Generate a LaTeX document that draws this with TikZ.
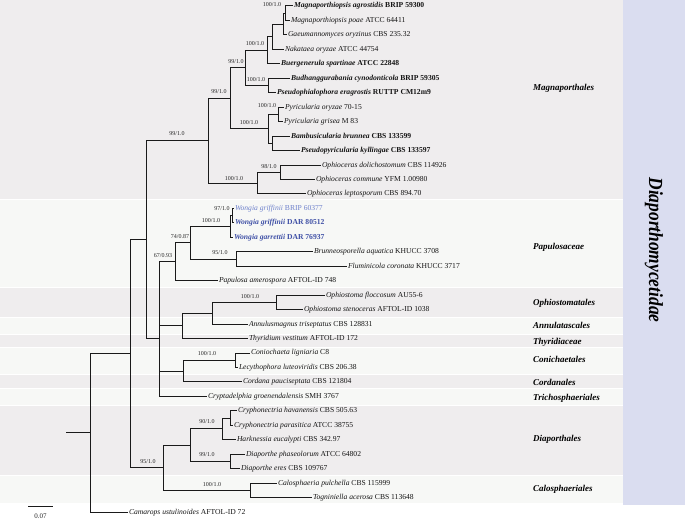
\documentclass[tikz,border=0pt]{standalone}
\usepackage{fontspec}
\setmainfont{Liberation Serif}
\usepackage{graphicx}
\definecolor{bandA}{HTML}{EFEDEE}
\definecolor{bandB}{HTML}{F7F8F6}
\definecolor{lav}{HTML}{DADDF0}
\definecolor{wblue}{HTML}{3F50A6}
\definecolor{wlight}{HTML}{6F82CC}
\definecolor{edge}{HTML}{1A1A1A}
\begin{document}
\begin{tikzpicture}[x=1pt,y=-1pt,
  br/.style={draw=edge,line width=1pt},
  leaf/.style={anchor=west,inner sep=0.8pt,text height=5.4pt,text depth=1.5pt,font=\fontsize{7.6}{8}\selectfont,text=black!92},
  sup/.style={inner sep=0pt,font=\fontsize{6}{6}\selectfont,text=black!85},
  clade/.style={anchor=west,inner sep=0pt,font=\fontsize{9}{10}\selectfont\bfseries\itshape},
  bandg/.style={fill=bandA,draw=none},
  bandw/.style={fill=bandB,draw=none}]
\useasboundingbox (0,0) rectangle (685,521);
% bands
\fill[bandg] (0,0.5) rectangle (623,199);
\fill[bandw] (0,200) rectangle (623,287);
\fill[bandg] (0,288) rectangle (623,317);
\fill[bandw] (0,318) rectangle (623,334);
\fill[bandg] (0,335) rectangle (623,347);
\fill[bandw] (0,348) rectangle (623,374);
\fill[bandg] (0,375) rectangle (623,388);
\fill[bandw] (0,389) rectangle (623,405);
\fill[bandg] (0,406) rectangle (623,475);
\fill[bandw] (0,476) rectangle (623,503);
\fill[lav] (623,0) rectangle (685,505);
\node[rotate=-90,inner sep=0pt] (sub) at (654,250) {\fontsize{20}{24}\selectfont\bfseries\itshape\scalebox{0.87}[1]{Diaporthomycetidae}};
% clade labels
\node[clade] (c1) at (533,88) {Magnaporthales};
\node[clade] (c2) at (533,247) {Papulosaceae};
\node[clade] (c3) at (533,303) {Ophiostomatales};
\node[clade] (c4) at (533,325) {Annulatascales};
\node[clade] (c5) at (533,342) {Thyridiaceae};
\node[clade] (c6) at (533,359) {Conichaetales};
\node[clade] (c7) at (533,382) {Cordanales};
\node[clade] (c8) at (533,398) {Trichosphaeriales};
\node[clade] (c9) at (533,439) {Diaporthales};
\node[clade] (c10) at (533,489) {Calosphaeriales};
% leaves
\node[leaf] (MA) at (293,6.0) {\textbf{\textit{Magnaporthiopsis agrostidis} BRIP 59300}};
\node[leaf] (MP) at (290,20.46) {\textit{Magnaporthiopsis poae} ATCC 64411};
\node[leaf] (GO) at (287,34.92) {\textit{Gaeumannomyces oryzinus} CBS 235.32};
\node[leaf] (NO) at (284,49.38) {\textit{Nakataea oryzae} ATCC 44754};
\node[leaf] (BS) at (280,63.84) {\textbf{\textit{Buergenerula spartinae} ATCC 22848}};
\node[leaf] (BC) at (290,78.30) {\textbf{\textit{Budhanggurabania cynodonticola} BRIP 59305}};
\node[leaf] (PE) at (276,92.76) {\textbf{\textit{Pseudophialophora eragrostis} RUTTP CM12m9}};
\node[leaf] (PO) at (284,107.22) {\textit{Pyricularia oryzae} 70-15};
\node[leaf] (PG) at (283,121.68) {\textit{Pyricularia grisea} M 83};
\node[leaf] (BB) at (290,136.14) {\textbf{\textit{Bambusicularia brunnea} CBS 133599}};
\node[leaf] (PK) at (300,150.60) {\textbf{\textit{Pseudopyricularia kyllingae} CBS 133597}};
\node[leaf] (OD) at (321,165.06) {\textit{Ophioceras dolichostomum} CBS 114926};
\node[leaf] (OC) at (315,179.52) {\textit{Ophioceras commune} YFM 1.00980};
\node[leaf] (OL) at (306,193.98) {\textit{Ophioceras leptosporum} CBS 894.70};
\node[leaf,text=wlight] (WG1) at (234,208.44) {\textit{Wongia griffinii} BRIP 60377};
\node[leaf,text=wblue] (WG2) at (234,222.90) {\textbf{\textit{Wongia griffinii} DAR 80512}};
\node[leaf,text=wblue] (WGa) at (233,237.36) {\textbf{\textit{Wongia garrettii} DAR 76937}};
\node[leaf] (BA) at (313,251.82) {\textit{Brunneosporella aquatica} KHUCC 3708};
\node[leaf] (FC) at (347,266.28) {\textit{Fluminicola coronata} KHUCC 3717};
\node[leaf] (PA) at (218,280.74) {\textit{Papulosa amerospora} AFTOL-ID 748};
\node[leaf] (OF) at (325,295.20) {\textit{Ophiostoma floccosum} AU55-6};
\node[leaf] (OS) at (303,309.66) {\textit{Ophiostoma stenoceras} AFTOL-ID 1038};
\node[leaf] (AT) at (248,324.12) {\textit{Annulusmagnus triseptatus} CBS 128831};
\node[leaf] (TV) at (248,338.58) {\textit{Thyridium vestitum} AFTOL-ID 172};
\node[leaf] (CL) at (250,353.04) {\textit{Coniochaeta ligniaria} C8};
\node[leaf] (LL) at (238,367.50) {\textit{Lecythophora luteoviridis} CBS 206.38};
\node[leaf] (CP) at (242,381.96) {\textit{Cordana pauciseptata} CBS 121804};
\node[leaf] (CG) at (207,396.42) {\textit{Cryptadelphia groenendalensis} SMH 3767};
\node[leaf] (CH) at (237,410.88) {\textit{Cryphonectria havanensis} CBS 505.63};
\node[leaf] (CPa) at (233,425.34) {\textit{Cryphonectria parasitica} ATCC 38755};
\node[leaf] (HE) at (236,439.80) {\textit{Harknessia eucalypti} CBS 342.97};
\node[leaf] (DP) at (245,454.26) {\textit{Diaporthe phaseolorum} ATCC 64802};
\node[leaf] (DE) at (240,468.72) {\textit{Diaporthe eres} CBS 109767};
\node[leaf] (CaP) at (277,483.18) {\textit{Calosphaeria pulchella} CBS 115999};
\node[leaf] (TA) at (312,497.64) {\textit{Togniniella acerosa} CBS 113648};
\node[leaf] (CU) at (128,512.10) {\textit{Camarops ustulinoides} AFTOL-ID 72};
% internal nodes
\coordinate (nH) at (285,13.23);
\coordinate (nG) at (283,24.08);
\coordinate (nF) at (272,36.73);
\coordinate (nD) at (267,50.28);
\coordinate (nE) at (268,85.53);
\coordinate (nC) at (245,67.90);
\coordinate (nQ) at (278,114.45);
\coordinate (nR) at (272,143.37);
\coordinate (nP) at (268,128.91);
\coordinate (nB) at (230,98.41);
\coordinate (nS) at (280,172.29);
\coordinate (nO) at (257,183.14);
\coordinate (nA) at (208,140.77);
\coordinate (nW1) at (232,215.67);
\coordinate (nW) at (230,226.52);
\coordinate (nBr) at (236,259.05);
\coordinate (n74) at (190,242.78);
\coordinate (n67) at (175,261.76);
\coordinate (nOph) at (276,302.43);
\coordinate (nAnn) at (212,313.28);
\coordinate (nThy) at (182,325.93);
\coordinate (nCon) at (235,360.27);
\coordinate (nCord) at (183,371.12);
\coordinate (n159) at (159,338.81);
\coordinate (n146) at (146,239.79);
\coordinate (nCry) at (230,418.11);
\coordinate (n90) at (222,428.96);
\coordinate (n99) at (230,461.49);
\coordinate (nDia) at (190,445.22);
\coordinate (nCal) at (250,490.41);
\coordinate (n95) at (163,467.82);
\coordinate (n130) at (130,353.80);
\coordinate (root) at (90,432.95);
\coordinate (root0) at (66,432.95);
% branches
\draw[br] (root0) -- (root);
\draw[br] (root) |- (n130);
\draw[br] (root) |- (CU.west);
\draw[br] (n130) |- (n146);
\draw[br] (n130) |- (n95);
\draw[br] (n146) |- (nA);
\draw[br] (n146) |- (n159);
\draw[br] (nA) |- (nB);
\draw[br] (nA) |- (nO);
\draw[br] (nB) |- (nC);
\draw[br] (nB) |- (nP);
\draw[br] (nC) |- (nD);
\draw[br] (nC) |- (nE);
\draw[br] (nD) |- (nF);
\draw[br] (nD) |- (BS.west);
\draw[br] (nF) |- (nG);
\draw[br] (nF) |- (NO.west);
\draw[br] (nG) |- (nH);
\draw[br] (nG) |- (GO.west);
\draw[br] (nH) |- (MA.west);
\draw[br] (nH) |- (MP.west);
\draw[br] (nE) |- (BC.west);
\draw[br] (nE) |- (PE.west);
\draw[br] (nP) |- (nQ);
\draw[br] (nP) |- (nR);
\draw[br] (nQ) |- (PO.west);
\draw[br] (nQ) |- (PG.west);
\draw[br] (nR) |- (BB.west);
\draw[br] (nR) |- (PK.west);
\draw[br] (nO) |- (nS);
\draw[br] (nO) |- (OL.west);
\draw[br] (nS) |- (OD.west);
\draw[br] (nS) |- (OC.west);
\draw[br] (n159) |- (n67);
\draw[br] (n159) |- (nThy);
\draw[br] (n159) |- (nCord);
\draw[br] (n159) |- (CG.west);
\draw[br] (n67) |- (n74);
\draw[br] (n67) |- (PA.west);
\draw[br] (n74) |- (nW);
\draw[br] (n74) |- (nBr);
\draw[br] (nW) |- (nW1);
\draw[br] (nW) |- (WGa.west);
\draw[br] (nW1) |- (WG1.west);
\draw[br] (nW1) |- (WG2.west);
\draw[br] (nBr) |- (BA.west);
\draw[br] (nBr) |- (FC.west);
\draw[br] (nThy) |- (nAnn);
\draw[br] (nThy) |- (TV.west);
\draw[br] (nAnn) |- (nOph);
\draw[br] (nAnn) |- (AT.west);
\draw[br] (nOph) |- (OF.west);
\draw[br] (nOph) |- (OS.west);
\draw[br] (nCord) |- (nCon);
\draw[br] (nCord) |- (CP.west);
\draw[br] (nCon) |- (CL.west);
\draw[br] (nCon) |- (LL.west);
\draw[br] (n95) |- (nDia);
\draw[br] (n95) |- (nCal);
\draw[br] (nDia) |- (n90);
\draw[br] (nDia) |- (n99);
\draw[br] (n90) |- (nCry);
\draw[br] (n90) |- (HE.west);
\draw[br] (nCry) |- (CH.west);
\draw[br] (nCry) |- (CPa.west);
\draw[br] (n99) |- (DP.west);
\draw[br] (n99) |- (DE.west);
\draw[br] (nCal) |- (CaP.west);
\draw[br] (nCal) |- (TA.west);
% support values
\node[sup] (sH) at (272,5) {100/1.0};
\node[sup] (sD) at (255,44) {100/1.0};
\node[sup] (sC) at (236,62) {99/1.0};
\node[sup] (sE) at (256,80) {100/1.0};
\node[sup] (sB) at (219,92) {99/1.0};
\node[sup] (sQ) at (267,106) {100/1.0};
\node[sup] (sP) at (249,123) {100/1.0};
\node[sup] (sA) at (177,134) {99/1.0};
\node[sup] (sS) at (269,167) {98/1.0};
\node[sup] (sO) at (234,179) {100/1.0};
\node[sup] (sW1) at (222,209) {97/1.0};
\node[sup] (sW) at (211,221) {100/1.0};
\node[sup] (sBr) at (220,253) {95/1.0};
\node[sup] (s74) at (180,237) {74/0.87};
\node[sup] (s67) at (163,256) {67/0.93};
\node[sup] (sOph) at (250,297) {100/1.0};
\node[sup] (sCon) at (207,354) {100/1.0};
\node[sup] (s90) at (207,422) {90/1.0};
\node[sup] (s99) at (207,455) {99/1.0};
\node[sup] (sCal) at (212,485) {100/1.0};
\node[sup] (s95) at (148,462) {95/1.0};
% scale bar
\coordinate (sb1) at (28,506);
\coordinate (sb2) at (53,506);
\draw[br] (sb1) -- (sb2);
\node[sup,font=\fontsize{7}{8}\selectfont] (sbl) at (40.5,516) {0.07};
\end{tikzpicture}
\end{document}
